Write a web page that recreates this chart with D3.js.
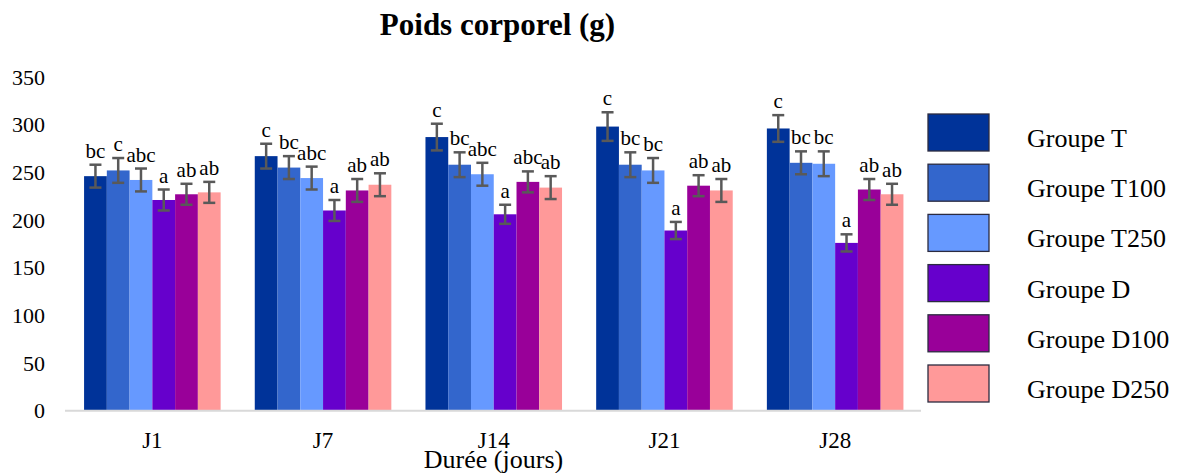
<!DOCTYPE html>
<html>
<head>
<meta charset="utf-8">
<script src="https://cdn.jsdelivr.net/npm/d3@7"></script>
<style>
  body { margin: 0; background: #fff; }
  svg text { font-family: "Liberation Serif", "Times New Roman", serif; }
</style>
</head>
<body>
<script>
// Data
var days = ['J1', 'J7', 'J14', 'J21', 'J28'];
var groups = ['Groupe T', 'Groupe T100', 'Groupe T250', 'Groupe D', 'Groupe D100', 'Groupe D250'];
var colors = ['#003399', '#3366CC', '#6699FF', '#6600CC', '#990099', '#FF9999'];

var meanT    = [246, 267, 287, 298, 296];
var meanT100 = [252, 255, 258, 258, 260];
var meanT250 = [242, 244, 248, 252, 259];
var meanD    = [221, 210, 206, 189, 176];
var meanD100 = [227, 231, 240, 236, 232];
var meanD250 = [229, 237, 234, 231, 227];

var errT    = [12, 13, 14, 15, 14];
var errT100 = [13, 12, 13, 13, 12];
var errT250 = [12, 12, 12, 13, 13];
var errD    = [11, 11, 10, 9, 9];
var errD100 = [11, 12, 11, 11, 11];
var errD250 = [11, 12, 12, 12, 11];

var letT    = ['bc', 'c', 'c', 'c', 'c'];
var letT100 = ['c', 'bc', 'bc', 'bc', 'bc'];
var letT250 = ['abc', 'abc', 'abc', 'bc', 'bc'];
var letD    = ['a', 'a', 'a', 'a', 'a'];
var letD100 = ['ab', 'ab', 'abc', 'ab', 'ab'];
var letD250 = ['ab', 'ab', 'ab', 'ab', 'ab'];

var yTicks = [0, 50, 100, 150, 200, 250, 300, 350];

var means = [meanT, meanT100, meanT250, meanD, meanD100, meanD250];
var errs = [errT, errT100, errT250, errD, errD100, errD250];
var letters = [letT, letT100, letT250, letD, letD100, letD250];

// flatten into records for the bars
var rows = [];
days.forEach(function (day, i) {
  groups.forEach(function (g, j) {
    rows.push({ day: day, group: g, value: means[j][i], err: errs[j][i], letter: letters[j][i], color: colors[j] });
  });
});

var svg = d3.select('body').append('svg').attr('width', 1180).attr('height', 473);

// Scales
var x0 = d3.scaleBand().domain(days).range([67, 920.5]).paddingInner(0.2).paddingOuter(0.1);
var x1 = d3.scaleBand().domain(groups).range([0, x0.bandwidth()]);
var y = d3.scaleLinear().domain([0, 350]).range([410.7, 77]);

// Title
svg.append('text')
  .attr('x', 497.5)
  .attr('y', 35)
  .attr('text-anchor', 'middle')
  .attr('font-size', 31)
  .attr('font-weight', 'bold')
  .text('Poids corporel (g)');

// Y axis (labels only)
var yAxis = svg.append('g')
  .attr('transform', 'translate(67,0)')
  .call(d3.axisLeft(y).tickValues(yTicks).tickSize(0).tickPadding(22));
yAxis.select('.domain').remove();
yAxis.selectAll('text').attr('font-size', 22).attr('fill', '#000')
  .style('font-family', '"Liberation Serif", serif');

// Bars
var bars = svg.append('g').selectAll('g')
  .data(rows)
  .enter()
  .append('g')
  .attr('transform', function (d) { return 'translate(' + (x0(d.day) + x1(d.group)) + ',0)'; });

bars.append('rect')
  .attr('x', 0)
  .attr('y', function (d) { return y(d.value); })
  .attr('width', x1.bandwidth())
  .attr('height', function (d) { return y(0) - y(d.value); })
  .attr('fill', function (d) { return d.color; });

// Error bars
var cx = x1.bandwidth() / 2;
bars.append('line')
  .attr('x1', cx).attr('x2', cx)
  .attr('y1', function (d) { return y(d.value + d.err); })
  .attr('y2', function (d) { return y(d.value - d.err); })
  .attr('stroke', '#595959').attr('stroke-width', 2.5);
bars.append('line')
  .attr('x1', cx - 6).attr('x2', cx + 6)
  .attr('y1', function (d) { return y(d.value + d.err); })
  .attr('y2', function (d) { return y(d.value + d.err); })
  .attr('stroke', '#595959').attr('stroke-width', 2.5);
bars.append('line')
  .attr('x1', cx - 6).attr('x2', cx + 6)
  .attr('y1', function (d) { return y(d.value - d.err); })
  .attr('y2', function (d) { return y(d.value - d.err); })
  .attr('stroke', '#595959').attr('stroke-width', 2.5);

// Significance letters
bars.append('text')
  .attr('x', cx)
  .attr('y', function (d) { return y(d.value + d.err) - 7; })
  .attr('text-anchor', 'middle')
  .attr('font-size', 21)
  .attr('fill', '#000')
  .text(function (d) { return d.letter; });

// X axis
var xAxis = svg.append('g')
  .attr('transform', 'translate(0,' + y(0) + ')')
  .call(d3.axisBottom(x0).tickSize(0).tickPadding(21));
xAxis.select('.domain').attr('stroke', '#d9d9d9').attr('stroke-width', 2)
  .attr('d', 'M65,0H921');
xAxis.selectAll('text').attr('font-size', 23).attr('fill', '#000')
  .style('font-family', '"Liberation Serif", serif');

svg.append('text')
  .attr('x', 493.5)
  .attr('y', 468)
  .attr('text-anchor', 'middle')
  .attr('font-size', 26)
  .text('Durée (jours)');

// Legend
var legend = svg.append('g').selectAll('g')
  .data(groups)
  .enter()
  .append('g')
  .attr('transform', function (d, i) { return 'translate(928,' + (114 + i * 50.2) + ')'; });

legend.append('rect')
  .attr('width', 61)
  .attr('height', 37)
  .attr('fill', function (d, i) { return colors[i]; })
  .attr('stroke', '#2b2b40')
  .attr('stroke-width', 1.3);

legend.append('text')
  .attr('x', 99)
  .attr('y', 33)
  .attr('font-size', 26)
  .attr('fill', '#000')
  .text(function (d) { return d; });
</script>
</body>
</html>
